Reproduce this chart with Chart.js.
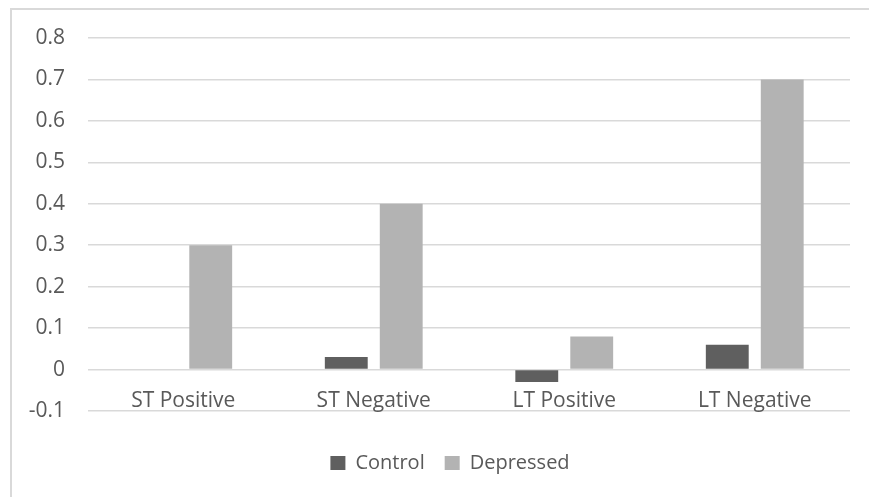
<!DOCTYPE html>
<html>
<head>
<meta charset="utf-8">
<script src="https://cdn.jsdelivr.net/npm/chart.js@4.4.1/dist/chart.umd.min.js"></script>
<style>
  html, body { margin: 0; padding: 0; background: #ffffff; }
  #wrap { position: relative; width: 869px; height: 497px; overflow: hidden; }
  #frame { position: absolute; left: 10px; top: 8px; width: 900px; height: 540px;
           border-left: 2px solid #d9d9d9; border-top: 2px solid #d9d9d9; box-sizing: border-box; }
  canvas { position: absolute; left: 0; top: 0; }
</style>
</head>
<body>
<div id="wrap">
  <div id="frame"></div>
  <canvas id="chart" width="869" height="497"></canvas>
</div>
<script>
// Categories and mean change scores per group
const categories = ['ST Positive', 'ST Negative', 'LT Positive', 'LT Negative'];
const controlValues = [0, 0.03, -0.03, 0.06];
const depressedValues = [0.3, 0.4, 0.08, 0.7];
const seriesNames = ['Control', 'Depressed'];
const yTickValues = [-0.1, 0, 0.1, 0.2, 0.3, 0.4, 0.5, 0.6, 0.7, 0.8];

const FONT = "'Open Sans', 'Noto Sans', sans-serif";
const TEXT = '#595959';

// Extra room above the legend, and a small rightward offset for it
const LEGEND_GAP = 22;
const LEGEND_SHIFT = 20;
const legendSpacing = {
  id: 'legendSpacing',
  beforeInit(chart) {
    const legend = chart.legend;
    const fit = legend.fit;
    legend.fit = function () {
      fit.call(this);
      this.height += LEGEND_GAP;
    };
  },
  afterLayout(chart) {
    const legend = chart.legend;
    legend.top += LEGEND_GAP;
    legend.bottom += LEGEND_GAP;
    legend.left += LEGEND_SHIFT;
    legend.right += LEGEND_SHIFT;
  }
};

new Chart(document.getElementById('chart'), {
  type: 'bar',
  data: {
    labels: categories,
    datasets: [
      { label: seriesNames[0], data: controlValues, backgroundColor: '#5f5f5f' },
      { label: seriesNames[1], data: depressedValues, backgroundColor: '#b3b3b3' }
    ]
  },
  plugins: [legendSpacing],
  options: {
    responsive: false,
    animation: false,
    devicePixelRatio: 1,
    categoryPercentage: 0.577,
    barPercentage: 0.78,
    layout: { padding: { left: 10, right: 19, top: 38, bottom: 14 } },
    plugins: {
      tooltip: { enabled: false },
      legend: {
        position: 'bottom',
        labels: {
          font: { family: FONT, size: 20 },
          color: TEXT,
          boxWidth: 15,
          boxHeight: 14,
          padding: 20
        }
      }
    },
    scales: {
      x: {
        position: { y: 0 },
        grid: { display: false },
        border: { display: false },
        ticks: { font: { family: FONT, size: 21 }, color: TEXT, padding: 11 }
      },
      y: {
        min: -0.1,
        max: 0.8,
        afterBuildTicks: (scale) => { scale.ticks = yTickValues.map(v => ({ value: v })); },
        afterFit: (scale) => { scale.width = 78; },
        grid: { color: '#d9d9d9', lineWidth: 1.5, drawTicks: false },
        border: { display: false },
        ticks: {
          font: { family: FONT, size: 21 },
          color: TEXT,
          padding: 23,
          callback: (v) => String(Number(v.toFixed(1)))
        }
      }
    }
  }
});
</script>
</body>
</html>
